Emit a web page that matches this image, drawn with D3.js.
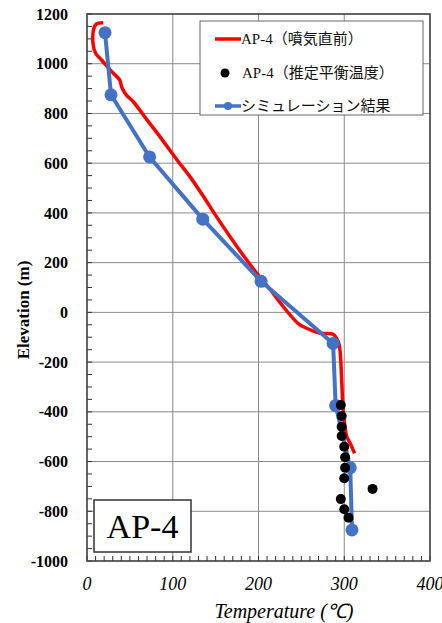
<!DOCTYPE html>
<meta charset="utf-8">
<head>
<style>
  body, html { margin: 0; background: white; }
  svg { display: block; }
  .tick-y { font: bold 16px "Liberation Serif", serif; }
  .tick-x { font: italic 18px "Liberation Serif", serif; }
  .legend text { font: 15px "Liberation Serif", "Noto Sans CJK JP", serif; fill: #111; }
</style>
<script src="https://cdn.jsdelivr.net/npm/d3@7"></script>
</head>
<body>
<script>
// AP-4 (just before fumarole) measured profile
var redTemp = [19, 11, 8, 7, 10, 17, 27, 31, 38, 41, 46, 54, 70, 85, 105, 120, 136, 151, 175, 198, 213, 225, 246, 256, 272, 287, 293, 295, 297, 299, 303, 307, 312];
var redElev = [1165, 1160, 1142, 1082, 1042, 1015, 975, 961, 935, 901, 874, 847, 774, 707, 613, 546, 465, 385, 264, 157, 95, 40, -44, -64, -84, -88, -118, -151, -272, -406, -500, -527, -567];
// estimated equilibrium temperature
var dotTemp = [296, 297, 297, 297, 300, 301, 301, 300, 333, 296, 300, 305];
var dotElev = [-373, -417, -460, -497, -540, -583, -625, -667, -710, -751, -792, -826];
// simulation result
var simTemp = [21, 28, 73, 135, 203, 287, 290, 307, 309];
var simElev = [1125, 875, 625, 375, 125, -125, -375, -625, -875];

var xTicks = [0, 100, 200, 300, 400];
var yTicks = [1200, 1000, 800, 600, 400, 200, 0, -200, -400, -600, -800, -1000];
var legendLabels = ["AP-4（噴気直前）", "AP-4（推定平衡温度）", "シミュレーション結果"];

var W = 442, H = 623;
var m = {left: 87, top: 14, right: 12, bottom: 62};
var iw = W - m.left - m.right, ih = H - m.top - m.bottom;

var svg = d3.select("body").append("svg").attr("width", W).attr("height", H);
var g = svg.append("g").attr("transform", "translate(" + m.left + "," + m.top + ")");

var x = d3.scaleLinear().domain([0, 400]).range([0, iw]);
var y = d3.scaleLinear().domain([-1000, 1200]).range([ih, 0]);

// grid
g.selectAll(".gx").data(xTicks).enter().append("line")
  .attr("x1", function(d){return x(d)}).attr("x2", function(d){return x(d)})
  .attr("y1", 0).attr("y2", ih).attr("stroke", "#8a8a8a").attr("stroke-width", 1);
g.selectAll(".gy").data(yTicks).enter().append("line")
  .attr("y1", function(d){return y(d)}).attr("y2", function(d){return y(d)})
  .attr("x1", 0).attr("x2", iw).attr("stroke", "#8a8a8a").attr("stroke-width", 1);

// minor ticks (inward)
g.selectAll(".mx").data(d3.range(0, 401, 10)).enter().append("line")
  .attr("x1", function(d){return x(d)}).attr("x2", function(d){return x(d)})
  .attr("y1", ih).attr("y2", ih - 5).attr("stroke", "#333");
g.selectAll(".my").data(d3.range(-1000, 1201, 50)).enter().append("line")
  .attr("y1", function(d){return y(d)}).attr("y2", function(d){return y(d)})
  .attr("x1", 0).attr("x2", 5).attr("stroke", "#333");

// frame
g.append("rect").attr("width", iw).attr("height", ih)
  .attr("fill", "none").attr("stroke", "#444").attr("stroke-width", 1.5);

// tick labels
g.selectAll(".ty").data(yTicks).enter().append("text").attr("class", "tick-y")
  .attr("x", -19).attr("y", function(d){return y(d)}).attr("dy", "0.35em")
  .attr("text-anchor", "end").text(function(d){return d});
g.selectAll(".tx").data(xTicks).enter().append("text").attr("class", "tick-x")
  .attr("x", function(d){return x(d)}).attr("y", ih + 29)
  .attr("text-anchor", "middle").text(function(d){return d});

// axis titles
svg.append("text").attr("x", 284).attr("y", 618).attr("text-anchor", "middle")
  .style("font", "italic 20px 'Liberation Serif', serif").text("Temperature (℃)");
svg.append("text").attr("transform", "translate(29,310) rotate(-90)")
  .attr("text-anchor", "middle").style("font", "bold 17px 'Liberation Serif', serif").text("Elevation (m)");

// red measured line
var line = d3.line().x(function(d){return x(d[0])}).y(function(d){return y(d[1])});
g.append("path").datum(d3.zip(redTemp, redElev)).attr("d", line.curve(d3.curveCatmullRom))
  .attr("fill", "none").attr("stroke", "#ff0000").attr("stroke-width", 3.5).attr("stroke-linejoin", "round");

// simulation
var simLine = d3.line().x(function(d){return x(d[0])}).y(function(d){return y(d[1])});
g.append("path").datum(d3.zip(simTemp, simElev)).attr("d", simLine)
  .attr("fill", "none").attr("stroke", "#4472c4").attr("stroke-width", 4).attr("stroke-linejoin", "round");
g.selectAll(".sim").data(d3.zip(simTemp, simElev)).enter().append("circle")
  .attr("cx", function(d){return x(d[0])}).attr("cy", function(d){return y(d[1])})
  .attr("r", 6.5).attr("fill", "#4472c4");

// equilibrium dots
g.selectAll(".dot").data(d3.zip(dotTemp, dotElev)).enter().append("circle")
  .attr("cx", function(d){return x(d[0])}).attr("cy", function(d){return y(d[1])})
  .attr("r", 5).attr("fill", "#000");

// legend
var lg = svg.append("g").attr("class", "legend");
lg.append("rect").attr("x", 200).attr("y", 21).attr("width", 223).attr("height", 94)
  .attr("fill", "white").attr("stroke", "#666").attr("stroke-width", 1);
var ly = [39, 73, 106];
lg.append("line").attr("x1", 215).attr("x2", 241).attr("y1", ly[0]).attr("y2", ly[0])
  .attr("stroke", "#ff0000").attr("stroke-width", 3.5);
lg.append("circle").attr("cx", 225).attr("cy", ly[1]).attr("r", 4.5).attr("fill", "#000");
lg.append("line").attr("x1", 215).attr("x2", 241).attr("y1", ly[2]).attr("y2", ly[2])
  .attr("stroke", "#4472c4").attr("stroke-width", 3.5);
lg.append("circle").attr("cx", 228).attr("cy", ly[2]).attr("r", 4).attr("fill", "#4472c4");
lg.selectAll(".lt").data(legendLabels).enter().append("text")
  .attr("x", function(d, i){return i == 1 ? 242 : 241}).attr("y", function(d, i){return ly[i]})
  .attr("dy", "0.35em").text(function(d){return d});

// well label box
svg.append("rect").attr("x", 94).attr("y", 500).attr("width", 97).attr("height", 52)
  .attr("fill", "white").attr("stroke", "#333").attr("stroke-width", 1.5);
svg.append("text").attr("x", 142.5).attr("y", 538).attr("text-anchor", "middle")
  .style("font", "34px 'Liberation Serif', serif").text("AP-4");
</script>
</body>
